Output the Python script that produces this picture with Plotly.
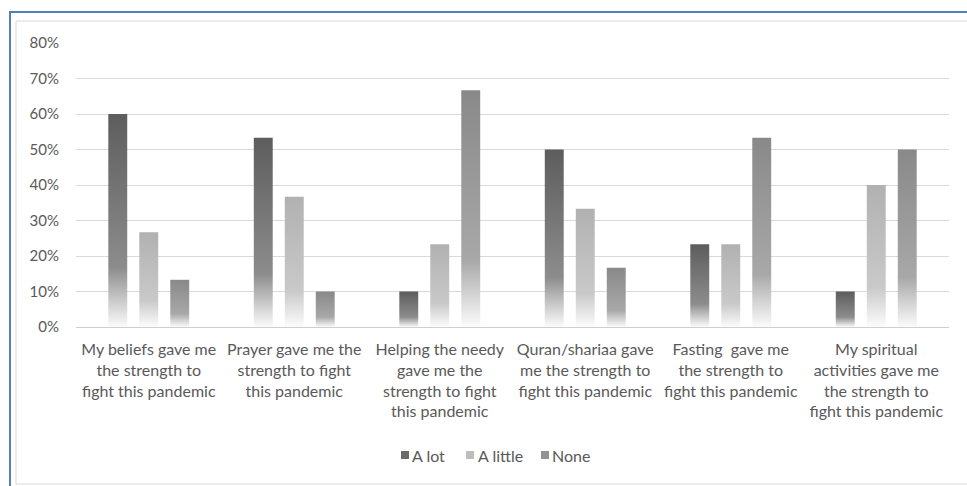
import plotly.graph_objects as go

# ---- data -------------------------------------------------------------
categories = [
    "My beliefs gave me<br>the strength to<br>fight this pandemic",
    "Prayer gave me the<br>strength to fight<br>this pandemic",
    "Helping the needy<br>gave me the<br>strength to fight<br>this pandemic",
    "Quran/shariaa gave<br>me the strength to<br>fight this pandemic",
    "Fasting  gave me<br>the strength to<br>fight this pandemic",
    "My spiritual<br>activities gave me<br>the strength to<br>fight this pandemic",
]
series_names = ["A lot", "A little", "None"]
a_lot = [0.600, 0.533, 0.100, 0.500, 0.233, 0.100]
a_little = [0.267, 0.367, 0.233, 0.333, 0.233, 0.400]
none = [0.133, 0.100, 0.667, 0.167, 0.533, 0.500]
tick_values = [0, 0.1, 0.2, 0.3, 0.4, 0.5, 0.6, 0.7, 0.8]

# ---- styling ----------------------------------------------------------
FONT = "Lato"
TEXT = "#595959"
GRID = "#d9d9d9"
# per-series vertical gradients (top of bar -> bottom of bar)
gradients = [
    [[0, "#5d5d5d"], [0.72, "#8c8c8c"], [1, "#fbfbfb"]],
    [[0, "#b1b1b1"], [0.72, "#c9c9c9"], [1, "#fcfcfc"]],
    [[0, "#898989"], [0.72, "#a8a8a8"], [1, "#fbfbfb"]],
]
swatch = ["#6a6a6a", "#bdbdbd", "#929292"]

W, H = 967, 486
M = dict(l=76, r=18, t=43, b=159)
PW = W - M["l"] - M["r"]
PH = H - M["t"] - M["b"]


def px(x):
    return (x - M["l"]) / PW


def py(y):
    return (H - M["b"] - y) / PH


slot = 0.213   # distance between bars of one group (category units)
half = 0.065   # half bar width (category units)

fig = go.Figure()
for s, (name, vals) in enumerate(zip(series_names, [a_lot, a_little, none])):
    for i, v in enumerate(vals):
        c = i + (s - 1) * slot
        fig.add_trace(go.Scatter(
            x=[c - half, c + half, c + half, c - half, c - half],
            y=[0, 0, v, v, 0],
            mode="none",
            fill="toself",
            fillgradient=dict(type="vertical", colorscale=gradients[s],
                              start=v, stop=0),
            name=name,
            showlegend=False,
            hovertemplate=f"{name}: %{{y:.1%}}<extra></extra>",
        ))

# legend drawn as swatches + labels below the axis labels
legend_items = [(401, 410), (466, 476), (541, 550)]
for s, (sx, tx) in enumerate(legend_items):
    fig.add_shape(type="rect", xref="paper", yref="paper",
                  x0=px(sx), x1=px(sx + 8), y0=py(459), y1=py(451),
                  line=dict(width=0), fillcolor=swatch[s])
    fig.add_annotation(xref="paper", yref="paper", x=px(tx), y=py(455),
                       text=series_names[s], showarrow=False,
                       xanchor="left", yanchor="middle",
                       font=dict(family=FONT, size=16, color=TEXT))

# chart frame: outer blue edge and inner light border
fig.add_shape(type="line", xref="paper", yref="paper",
              x0=px(9), x1=px(975), y0=py(12), y1=py(12),
              line=dict(color="#4f81bd", width=2))
fig.add_shape(type="line", xref="paper", yref="paper",
              x0=px(10), x1=px(10), y0=py(12), y1=py(495),
              line=dict(color="#4f81bd", width=2))
fig.add_shape(type="rect", xref="paper", yref="paper",
              x0=px(16), x1=px(985), y0=py(484), y1=py(21),
              line=dict(color=GRID, width=1), fillcolor="rgba(0,0,0,0)")

fig.update_xaxes(
    range=[-0.5, 5.5],
    tickmode="array",
    tickvals=list(range(len(categories))),
    ticktext=categories,
    showgrid=False,
    zeroline=False,
    showline=False,
    ticks="",
    ticklabelstandoff=11,
    tickfont=dict(family=FONT, size=16, color=TEXT),
    fixedrange=True,
)
fig.update_yaxes(
    range=[0, 0.8],
    tickmode="array",
    tickvals=tick_values,
    tickformat=".0%",
    showgrid=True,
    gridcolor=GRID,
    gridwidth=1,
    zeroline=True,
    zerolinecolor="#cfcfcf",
    zerolinewidth=1,
    showline=False,
    ticks="",
    ticklabelstandoff=16,
    tickfont=dict(family=FONT, size=15, color=TEXT),
    fixedrange=True,
)
fig.update_layout(
    width=W,
    height=H,
    margin=M,
    paper_bgcolor="white",
    plot_bgcolor="white",
    showlegend=False,
    font=dict(family=FONT, color=TEXT),
)

fig.write_html("out.html")
